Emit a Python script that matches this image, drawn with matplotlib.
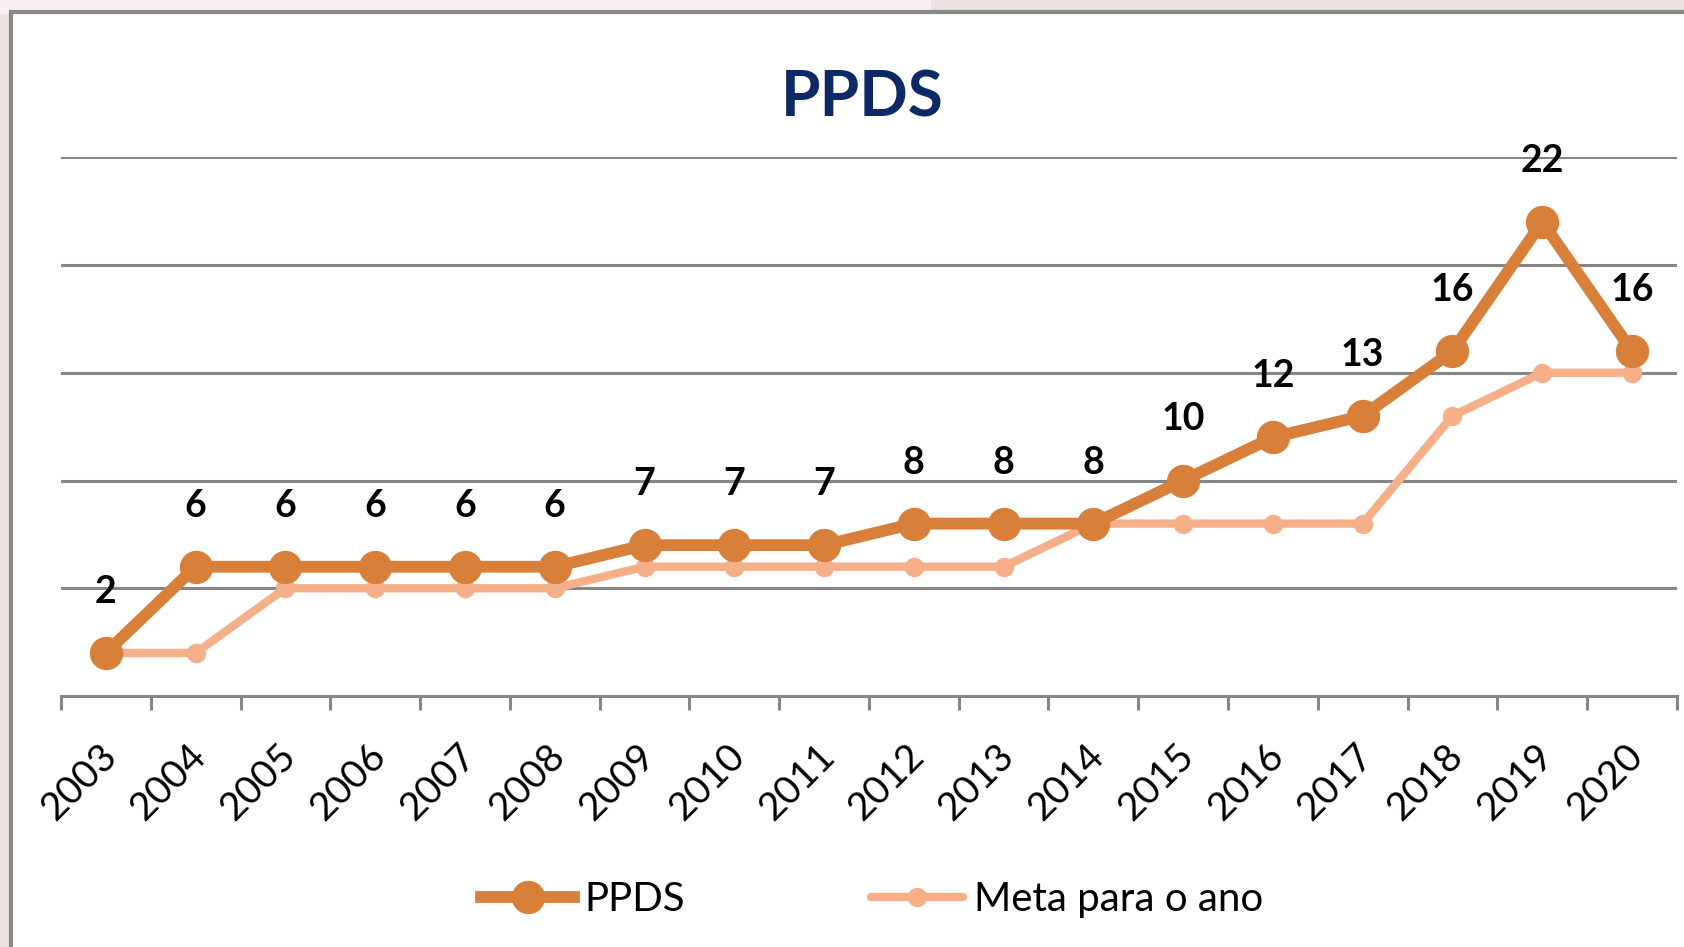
import matplotlib.pyplot as plt
import matplotlib.transforms as mtransforms
from matplotlib.patches import Rectangle

# data
years = [str(y) for y in range(2003, 2021)]
ppds = [2, 6, 6, 6, 6, 6, 7, 7, 7, 8, 8, 8, 10, 12, 13, 16, 22, 16]
meta = [2, 2, 5, 5, 5, 5, 6, 6, 6, 6, 6, 8, 8, 8, 8, 13, 15, 15]
grid_levels = [5, 10, 15, 20, 25]

plt.rcParams['font.family'] = ['Lato', 'DejaVu Sans']

c_ppds = '#D87F3A'
c_meta = '#F5B08A'
c_grid = '#868686'

fig = plt.figure(figsize=(16.84, 9.47), dpi=100)
fig.patch.set_facecolor('#ECE4E2')

# page background strips + white chart area with grey frame
fig.add_artist(Rectangle((0, 0.985), 0.553, 0.015, transform=fig.transFigure,
                         facecolor='#F6F1F0', edgecolor='none', zorder=0))
fig.add_artist(Rectangle((0.0065, -0.05), 1.05, 1.037, transform=fig.transFigure,
                         facecolor='white', edgecolor='#898989', linewidth=3, zorder=0))

ax = fig.add_axes([0.0362, 0.265, 0.9596, 0.569])
ax.set_facecolor('none')
x = list(range(len(years)))

for g in grid_levels:
    ax.axhline(g, color=c_grid, linewidth=2.2, zorder=1)

ax.plot(x, meta, color=c_meta, linewidth=6, marker='o', markersize=13,
        solid_capstyle='round', label='Meta para o ano', zorder=3)
ax.plot(x, ppds, color=c_ppds, linewidth=8.5, marker='o', markersize=23,
        label='PPDS', zorder=4)

for xi, v in zip(x, ppds):
    ax.annotate(str(v), (xi, v), xytext=(0, 44), textcoords='offset points',
                ha='center', va='center', fontsize=27, fontweight='bold',
                color='black', annotation_clip=False, zorder=5)

ax.set_xlim(-0.5, len(years) - 0.5)
ax.set_ylim(0, 25)
ax.set_yticks([])
for s in ['left', 'right', 'top']:
    ax.spines[s].set_visible(False)
ax.spines['bottom'].set_color(c_grid)
ax.spines['bottom'].set_linewidth(2.2)

ax.set_xticks([i - 0.5 for i in range(len(years) + 1)])
ax.set_xticklabels([])
ax.tick_params(axis='x', which='major', length=10, width=2.2, color=c_grid)
ax.set_xticks(x, minor=True)
ax.set_xticklabels(years, minor=True, rotation=45, ha='right',
                   rotation_mode='anchor', fontsize=28)
ax.tick_params(axis='x', which='minor', length=0, pad=30)
shift = mtransforms.ScaledTranslation(-8 / 100, 0, fig.dpi_scale_trans)
for lab in ax.get_xticklabels(minor=True):
    lab.set_transform(lab.get_transform() + shift)

fig.text(0.512, 0.896, 'PPDS', ha='center', va='center', fontsize=46,
         fontweight='bold', color='#0E2A66')

h1, l1 = ax.get_legend_handles_labels()
fig.legend([h1[1], h1[0]], [l1[1], l1[0]], loc='center', ncol=2,
           bbox_to_anchor=(0.518, 0.05), frameon=False, fontsize=29,
           columnspacing=4.6, handlelength=2.3, handletextpad=0.27)

fig.savefig('out.png', dpi=100, facecolor=fig.get_facecolor())
